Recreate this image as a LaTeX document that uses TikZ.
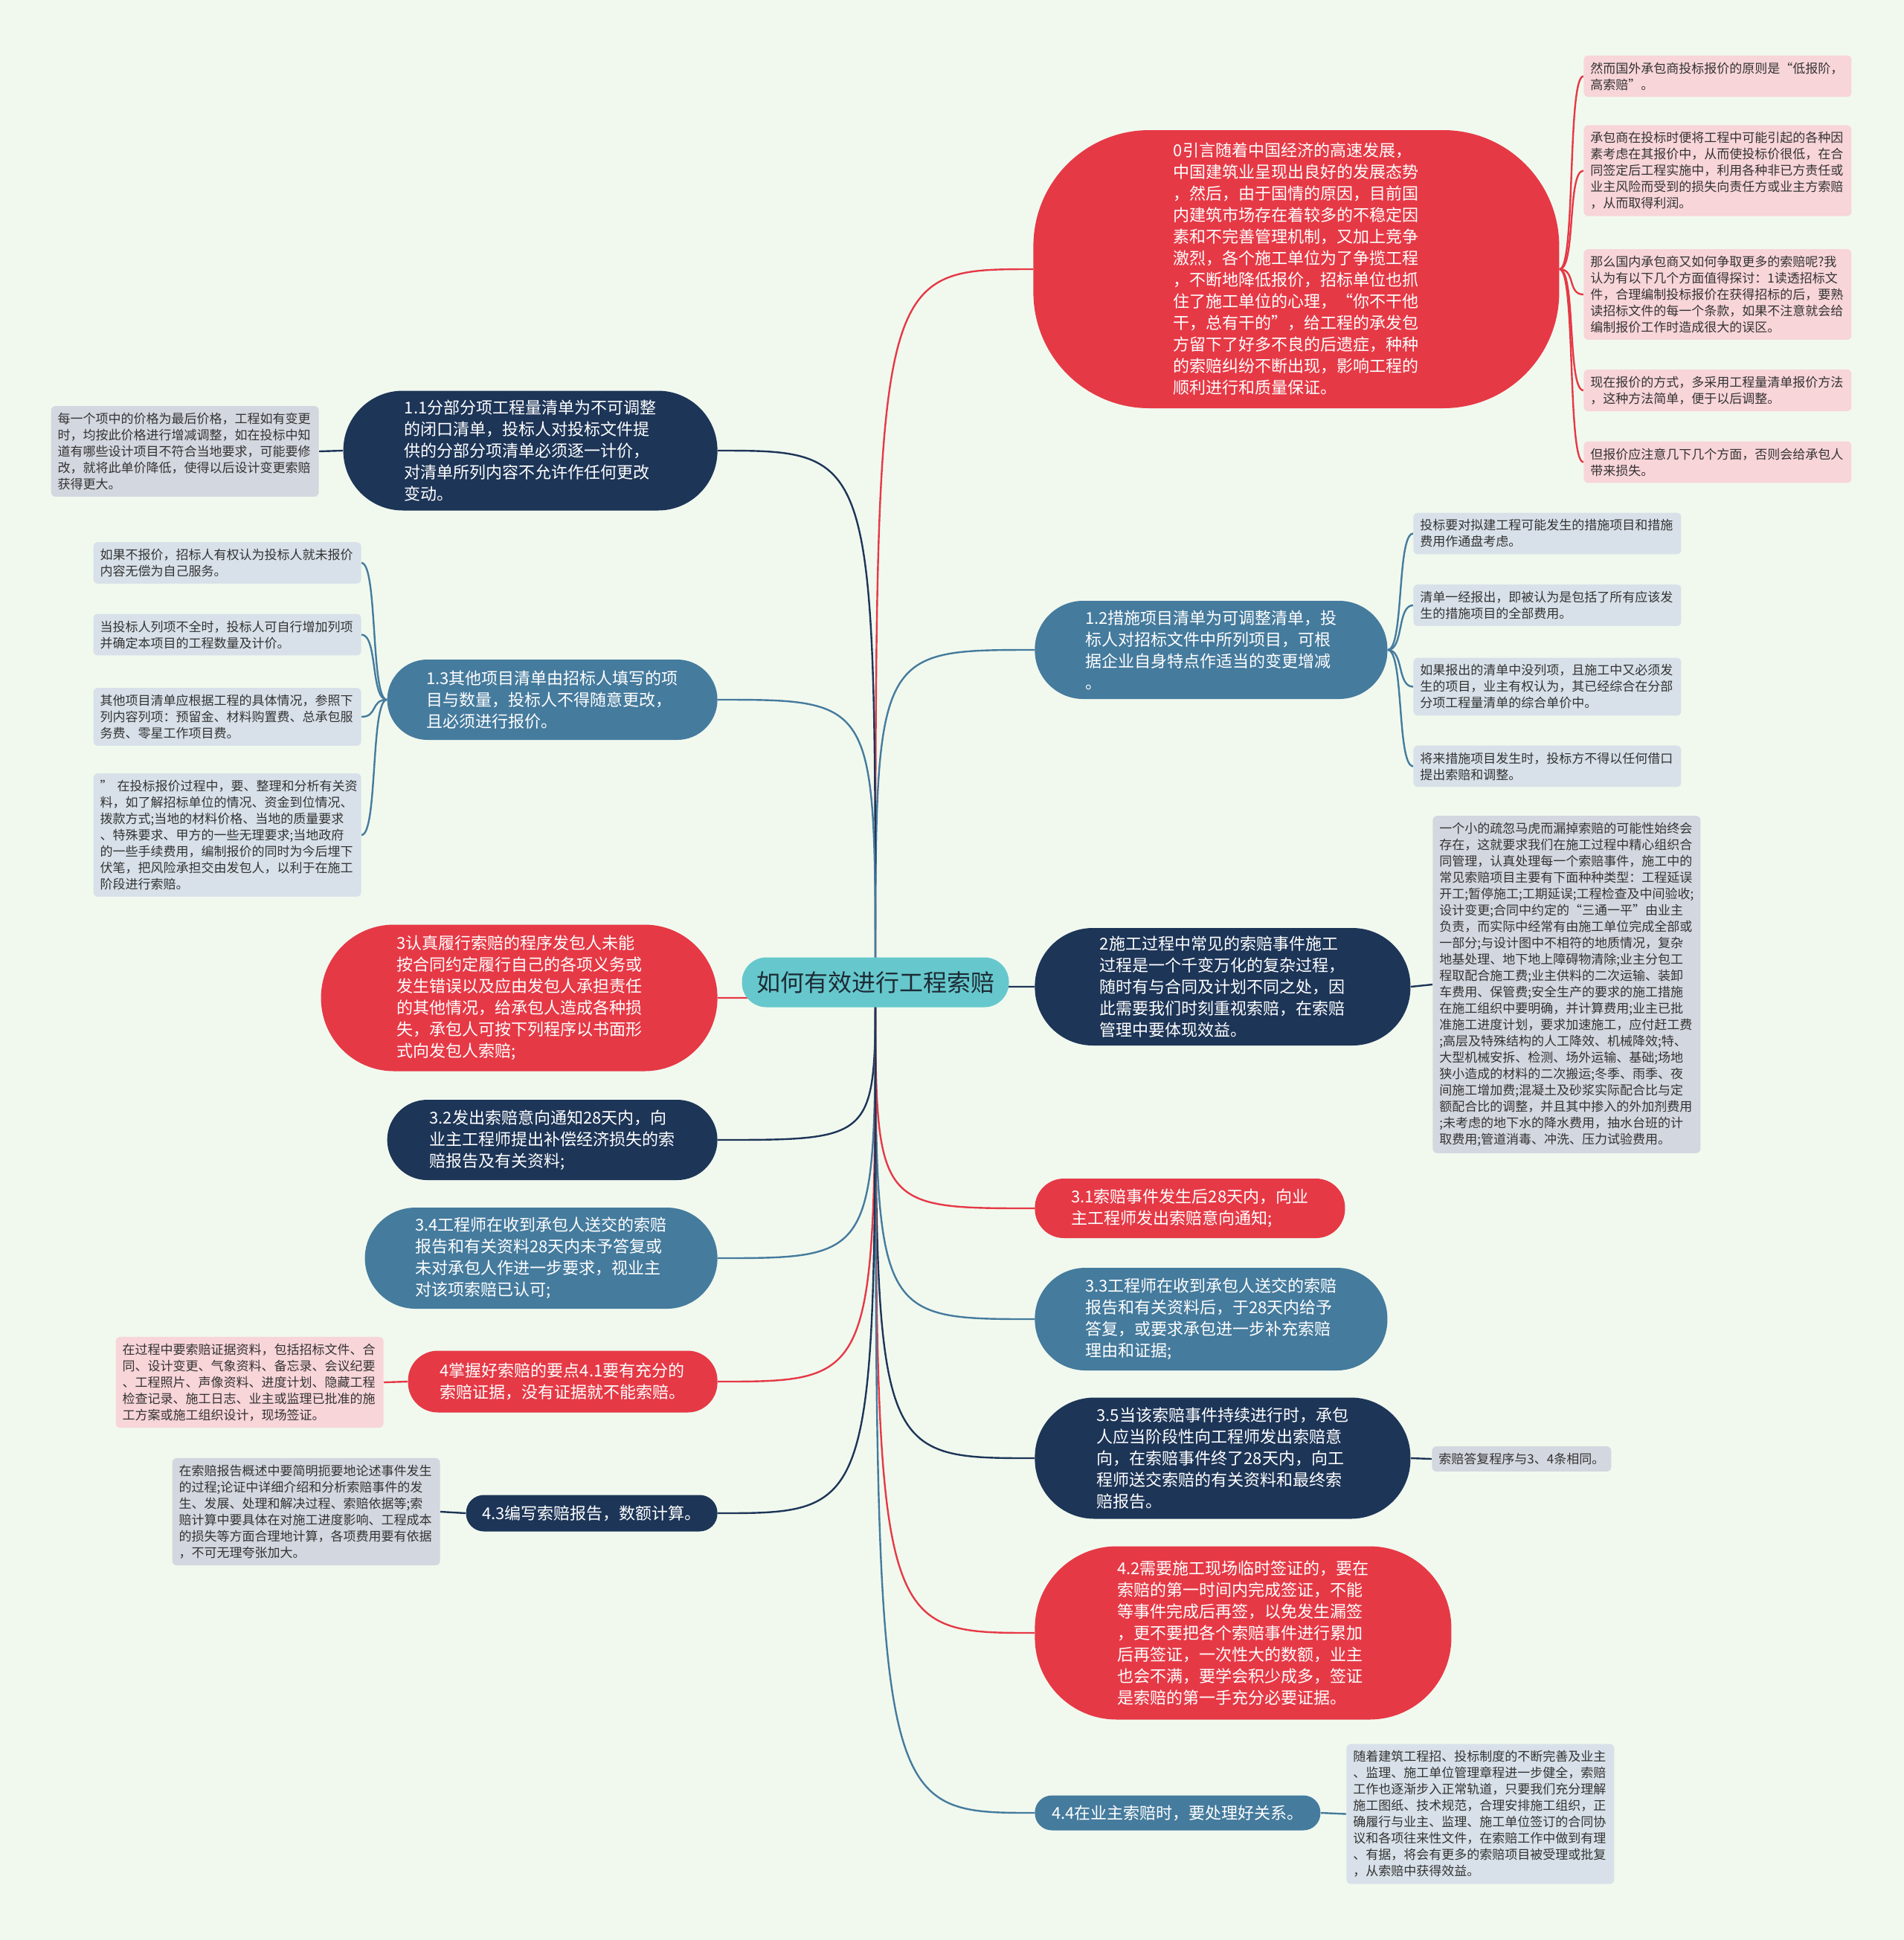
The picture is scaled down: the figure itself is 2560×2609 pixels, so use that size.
\documentclass[tikz,border=0pt]{standalone}
\usepackage{fontspec}
\setmainfont{Noto Sans CJK SC}
\usetikzlibrary{calc}
\definecolor{bgc}{HTML}{F1F9EF}
\definecolor{cred}{HTML}{E63946}
\definecolor{cnavy}{HTML}{1D3557}
\definecolor{csteel}{HTML}{457B9D}
\definecolor{cteal}{HTML}{66C8CC}
\definecolor{lpink}{HTML}{F8D5D9}
\definecolor{lgrey}{HTML}{D3D7DF}
\definecolor{lblue}{HTML}{D8E1E9}
\definecolor{ltext}{HTML}{333333}
\definecolor{ctext}{HTML}{1D2B36}
\newcommand\mainfnt{\fontsize{11pt}{14.5pt}\selectfont}
\newcommand\leaffnt{\fontsize{8.5pt}{11pt}\selectfont}
\pgfdeclarelayer{bgl}
\pgfdeclarelayer{lines}
\pgfsetlayers{bgl,lines,main}
\tikzset{
  mnode/.style={text=white, align=left, font=\mainfnt, inner sep=3pt},
  leafbox/.style={rounded corners=3pt, text width=171pt, align=left, inner xsep=4.5pt, inner ysep=4.5pt, font=\leaffnt, text=ltext},
  leafshort/.style={rounded corners=3pt, align=left, inner xsep=4.5pt, inner ysep=4.5pt, font=\leaffnt, text=ltext},
  mlinkred/.style={draw=cred, line width=1.2pt},
  mlinknavy/.style={draw=cnavy, line width=1.2pt},
  mlinksteel/.style={draw=csteel, line width=1.2pt},
}
\newcommand\mlink[2]{\draw[#1] (c.center) .. controls (c.center |- #2) and (c.center |- #2) .. (#2);}
\newcommand\rlink[3]{\draw[#1] (#2) .. controls +(22,0) and +(-22,0) .. (#3);}
\newcommand\llink[3]{\draw[#1] (#2) .. controls +(-22,0) and +(22,0) .. (#3);}
\begin{document}
\begin{tikzpicture}[x=0.5pt,y=-0.5pt]
\begin{pgfonlayer}{bgl}
\path[fill=bgc] (0,0) rectangle (2560,2609);
\end{pgfonlayer}

% center
\node[fill=cteal, rounded corners=16.5pt, minimum width=179.5pt, minimum height=33.5pt, text=ctext, font=\fontsize{16pt}{19pt}\selectfont] (c) at (1177,1321) {如何有效进行工程索赔};

% right side main nodes
\node[mnode, fill=cred, rounded corners=78pt, minimum width=353.5pt, minimum height=187pt, anchor=west] (n0) at (1389,362) {0引言随着中国经济的高速发展，\\中国建筑业呈现出良好的发展态势\\，然后，由于国情的原因，目前国\\内建筑市场存在着较多的不稳定因\\素和不完善管理机制，又加上竞争\\激烈，各个施工单位为了争揽工程\\，不断地降低报价，招标单位也抓\\住了施工单位的心理，“你不干他\\干，总有干的”，给工程的承发包\\方留下了好多不良的后遗症，种种\\的索赔纠纷不断出现，影响工程的\\顺利进行和质量保证。};
\node[mnode, fill=csteel, rounded corners=32.5pt, minimum width=237pt, minimum height=66pt, anchor=west] (n12) at (1391,874) {1.2措施项目清单为可调整清单，投\\标人对招标文件中所列项目，可根\\据企业自身特点作适当的变更增减\\。};
\node[mnode, fill=cnavy, rounded corners=39pt, minimum width=252.5pt, minimum height=79pt, anchor=west] (n2) at (1391,1327) {2施工过程中常见的索赔事件施工\\过程是一个千变万化的复杂过程，\\随时有与合同及计划不同之处，因\\此需要我们时刻重视索赔，在索赔\\管理中要体现效益。};
\node[mnode, fill=cred, rounded corners=19.5pt, minimum width=208.5pt, minimum height=40pt, anchor=west] (n31) at (1391,1625) {3.1索赔事件发生后28天内，向业\\主工程师发出索赔意向通知;};
\node[mnode, fill=csteel, rounded corners=34pt, minimum width=237pt, minimum height=69pt, anchor=west] (n33) at (1391,1774) {3.3工程师在收到承包人送交的索赔\\报告和有关资料后，于28天内给予\\答复，或要求承包进一步补充索赔\\理由和证据;};
\node[mnode, fill=cnavy, rounded corners=40pt, minimum width=252.5pt, minimum height=81.5pt, anchor=west] (n35) at (1391,1961) {3.5当该索赔事件持续进行时，承包\\人应当阶段性向工程师发出索赔意\\向，在索赔事件终了28天内，向工\\程师送交索赔的有关资料和最终索\\赔报告。};
\node[mnode, fill=cred, rounded corners=55pt, minimum width=280pt, minimum height=116.5pt, anchor=west] (n42) at (1391,2196) {4.2需要施工现场临时签证的，要在\\索赔的第一时间内完成签证，不能\\等事件完成后再签，以免发生漏签\\，更不要把各个索赔事件进行累加\\后再签证，一次性大的数额，业主\\也会不满，要学会积少成多，签证\\是索赔的第一手充分必要证据。};
\node[mnode, fill=csteel, rounded corners=11.5pt, minimum width=192pt, minimum height=23.5pt, anchor=west] (n44) at (1391,2438) {4.4在业主索赔时，要处理好关系。};

% left side main nodes
\node[mnode, fill=cnavy, rounded corners=40pt, minimum width=251.5pt, minimum height=80.5pt, anchor=east] (n11) at (965,606) {1.1分部分项工程量清单为不可调整\\的闭口清单，投标人对投标文件提\\供的分部分项清单必须逐一计价，\\对清单所列内容不允许作任何更改\\变动。};
\node[mnode, fill=csteel, rounded corners=27pt, minimum width=222pt, minimum height=54pt, anchor=east] (n13) at (965,941) {1.3其他项目清单由招标人填写的项\\目与数量，投标人不得随意更改，\\且必须进行报价。};
\node[mnode, fill=cred, rounded corners=49pt, minimum width=266.5pt, minimum height=98.5pt, anchor=east] (n3) at (965,1342) {3认真履行索赔的程序发包人未能\\按合同约定履行自己的各项义务或\\发生错误以及应由发包人承担责任\\的其他情况，给承包人造成各种损\\失，承包人可按下列程序以书面形\\式向发包人索赔;};
\node[mnode, fill=cnavy, rounded corners=27pt, minimum width=222pt, minimum height=54pt, anchor=east] (n32) at (965,1533) {3.2发出索赔意向通知28天内，向\\业主工程师提出补偿经济损失的索\\赔报告及有关资料;};
\node[mnode, fill=csteel, rounded corners=34pt, minimum width=237pt, minimum height=68pt, anchor=east] (n34) at (965,1692) {3.4工程师在收到承包人送交的索赔\\报告和有关资料28天内未予答复或\\未对承包人作进一步要求，视业主\\对该项索赔已认可;};
\node[mnode, fill=cred, rounded corners=20pt, minimum width=208pt, minimum height=41.5pt, anchor=east] (n4) at (965,1858) {4掌握好索赔的要点4.1要有充分的\\索赔证据，没有证据就不能索赔。};
\node[mnode, fill=cnavy, rounded corners=12pt, minimum width=169pt, minimum height=24.5pt, anchor=east] (n43) at (965,2035) {4.3编写索赔报告，数额计算。};

% leaves of n0
\node[leafbox, fill=lpink, anchor=west] (a1) at (2129,102.5) {然而国外承包商投标报价的原则是“低报阶，\\高索赔”。};
\node[leafbox, fill=lpink, anchor=west] (a2) at (2129,229.5) {承包商在投标时便将工程中可能引起的各种因\\素考虑在其报价中，从而使投标价很低，在合\\同签定后工程实施中，利用各种非已方责任或\\业主风险而受到的损失向责任方或业主方索赔\\，从而取得利润。};
\node[leafbox, fill=lpink, anchor=west] (a3) at (2129,396) {那么国内承包商又如何争取更多的索赔呢?我\\认为有以下几个方面值得探讨：1读透招标文\\件，合理编制投标报价在获得招标的后，要熟\\读招标文件的每一个条款，如果不注意就会给\\编制报价工作时造成很大的误区。};
\node[leafbox, fill=lpink, anchor=west] (a4) at (2129,525) {现在报价的方式，多采用工程量清单报价方法\\，这种方法简单，便于以后调整。};
\node[leafbox, fill=lpink, anchor=west] (a5) at (2129,621.5) {但报价应注意几下几个方面，否则会给承包人\\带来损失。};

% leaves of n12
\node[leafbox, fill=lblue, anchor=west] (b1) at (1900,717.5) {投标要对拟建工程可能发生的措施项目和措施\\费用作通盘考虑。};
\node[leafbox, fill=lblue, anchor=west] (b2) at (1900,814) {清单一经报出，即被认为是包括了所有应该发\\生的措施项目的全部费用。};
\node[leafbox, fill=lblue, anchor=west] (b3) at (1900,923.5) {如果报出的清单中没列项，且施工中又必须发\\生的项目，业主有权认为，其已经综合在分部\\分项工程量清单的综合单价中。};
\node[leafbox, fill=lblue, anchor=west] (b4) at (1900,1030.5) {将来措施项目发生时，投标方不得以任何借口\\提出索赔和调整。};

% leaves of n13
\node[leafbox, fill=lblue, anchor=east] (d1) at (486,757) {如果不报价，招标人有权认为投标人就未报价\\内容无偿为自己服务。};
\node[leafbox, fill=lblue, anchor=east] (d2) at (486,853.5) {当投标人列项不全时，投标人可自行增加列项\\并确定本项目的工程数量及计价。};
\node[leafbox, fill=lblue, anchor=east] (d3) at (486,964) {其他项目清单应根据工程的具体情况，参照下\\列内容列项：预留金、材料购置费、总承包服\\务费、零星工作项目费。};
\node[leafbox, fill=lblue, anchor=east] (d4) at (486,1123) {\mbox{”\hspace{3pt}在投标报价过程中，要、整理和分析有关资}\\料，如了解招标单位的情况、资金到位情况、\\拨款方式;当地的材料价格、当地的质量要求\\、特殊要求、甲方的一些无理要求;当地政府\\的一些手续费用，编制报价的同时为今后埋下\\伏笔，把风险承担交由发包人，以利于在施工\\阶段进行索赔。};

% other leaves
\node[leafbox, fill=lgrey, anchor=east] (e1) at (429,607) {每一个项中的价格为最后价格，工程如有变更\\时，均按此价格进行增减调整，如在投标中知\\道有哪些设计项目不符合当地要求，可能要修\\改，就将此单价降低，使得以后设计变更索赔\\获得更大。};
\node[leafbox, fill=lgrey, anchor=west] (f1) at (1926,1324) {一个小的疏忽马虎而漏掉索赔的可能性始终会\\存在，这就要求我们在施工过程中精心组织合\\同管理，认真处理每一个索赔事件，施工中的\\常见索赔项目主要有下面种种类型：工程延误\\开工;暂停施工;工期延误;工程检查及中间验收;\\设计变更;合同中约定的“三通一平”由业主\\负责，而实际中经常有由施工单位完成全部或\\一部分;与设计图中不相符的地质情况，复杂\\地基处理、地下地上障碍物清除;业主分包工\\程取配合施工费;业主供料的二次运输、装卸\\车费用、保管费;安全生产的要求的施工措施\\在施工组织中要明确，并计算费用;业主已批\\准施工进度计划，要求加速施工，应付赶工费\\;高层及特殊结构的人工降效、机械降效;特、\\大型机械安拆、检测、场外运输、基础;场地\\狭小造成的材料的二次搬运;冬季、雨季、夜\\间施工增加费;混凝土及砂浆实际配合比与定\\额配合比的调整，并且其中掺入的外加剂费用\\;未考虑的地下水的降水费用，抽水台班的计\\取费用;管道消毒、冲洗、压力试验费用。};
\node[leafbox, fill=lpink, anchor=east] (g1) at (516,1859) {在过程中要索赔证据资料，包括招标文件、合\\同、设计变更、气象资料、备忘录、会议纪要\\、工程照片、声像资料、进度计划、隐藏工程\\检查记录、施工日志、业主或监理已批准的施\\工方案或施工组织设计，现场签证。};
\node[leafbox, fill=lgrey, anchor=east] (h1) at (592,2033) {在索赔报告概述中要简明扼要地论述事件发生\\的过程;论证中详细介绍和分析索赔事件的发\\生、发展、处理和解决过程、索赔依据等;索\\赔计算中要具体在对施工进度影响、工程成本\\的损失等方面合理地计算，各项费用要有依据\\，不可无理夸张加大。};
\node[leafshort, fill=lgrey, anchor=west] (k1) at (1925,1962) {索赔答复程序与3、4条相同。};
\node[leafbox, fill=lblue, anchor=west] (m1) at (1810,2439.5) {随着建筑工程招、投标制度的不断完善及业主\\、监理、施工单位管理章程进一步健全，索赔\\工作也逐渐步入正常轨道，只要我们充分理解\\施工图纸、技术规范，合理安排施工组织，正\\确履行与业主、监理、施工单位签订的合同协\\议和各项往来性文件，在索赔工作中做到有理\\、有据，将会有更多的索赔项目被受理或批复\\，从索赔中获得效益。};

\begin{pgfonlayer}{lines}
\mlink{mlinkred}{n0.west}
\mlink{mlinksteel}{n12.west}
\mlink{mlinknavy}{n2.west}
\mlink{mlinkred}{n31.west}
\mlink{mlinksteel}{n33.west}
\mlink{mlinknavy}{n35.west}
\mlink{mlinkred}{n42.west}
\mlink{mlinksteel}{n44.west}
\mlink{mlinknavy}{n11.east}
\mlink{mlinksteel}{n13.east}
\mlink{mlinkred}{n3.east}
\mlink{mlinknavy}{n32.east}
\mlink{mlinksteel}{n34.east}
\mlink{mlinkred}{n4.east}
\mlink{mlinknavy}{n43.east}
% leaf links
\rlink{mlinkred}{n0.east}{a1.west}
\rlink{mlinkred}{n0.east}{a2.west}
\rlink{mlinkred}{n0.east}{a3.west}
\rlink{mlinkred}{n0.east}{a4.west}
\rlink{mlinkred}{n0.east}{a5.west}
\rlink{mlinksteel}{n12.east}{b1.west}
\rlink{mlinksteel}{n12.east}{b2.west}
\rlink{mlinksteel}{n12.east}{b3.west}
\rlink{mlinksteel}{n12.east}{b4.west}
\llink{mlinksteel}{n13.west}{d1.east}
\llink{mlinksteel}{n13.west}{d2.east}
\llink{mlinksteel}{n13.west}{d3.east}
\llink{mlinksteel}{n13.west}{d4.east}
\draw[mlinknavy] (n11.west) -- (e1.east);
\draw[mlinknavy] (n2.east) -- (f1.west);
\draw[mlinkred] (n4.west) -- (g1.east);
\draw[mlinknavy] (n43.west) -- (h1.east);
\draw[mlinknavy] (n35.east) -- (k1.west);
\draw[mlinksteel] (n44.east) -- (m1.west);
\end{pgfonlayer}
\end{tikzpicture}
\end{document}
